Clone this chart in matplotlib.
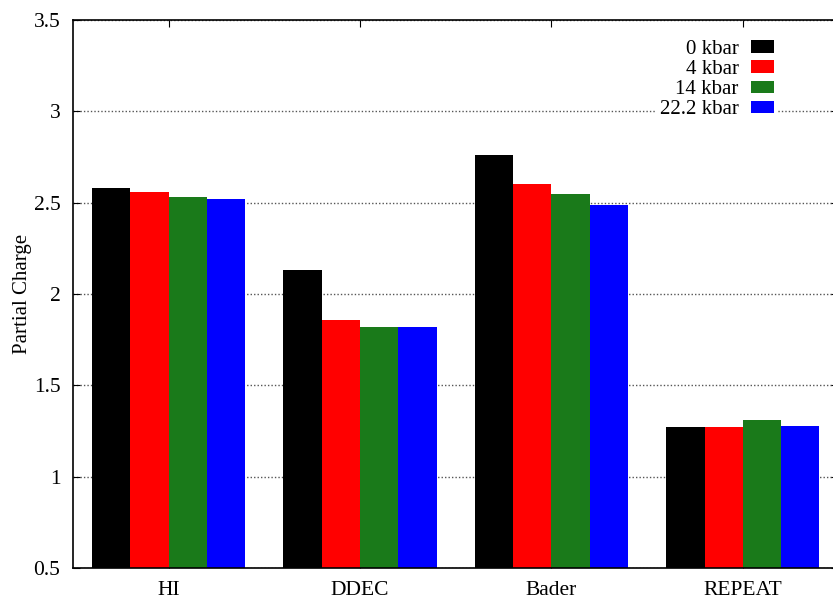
"""
Partial charge of the metal site under pressure, by charge partitioning scheme.
"""
import numpy as np
import matplotlib
matplotlib.use("Agg")
import matplotlib.pyplot as plt

methods = ["HI", "DDEC", "Bader", "REPEAT"]
pressures = ["0 kbar", "4 kbar", "14 kbar", "22.2 kbar"]
charge_0 = [2.58, 2.13, 2.76, 1.27]
charge_4 = [2.56, 1.86, 2.60, 1.27]
charge_14 = [2.53, 1.82, 2.55, 1.31]
charge_22 = [2.52, 1.82, 2.49, 1.28]
colors = ["#000000", "#ff0000", "#1a7a1a", "#0000ff"]

plt.rcParams["font.family"] = ["Liberation Serif", "DejaVu Serif"]

fig = plt.figure(figsize=(8.33, 6.01), dpi=100)
ax = fig.add_axes([0.0876, 0.0549, 0.919, 0.9118])

x = np.arange(len(methods))
width = 0.2
series = [charge_0, charge_4, charge_14, charge_22]
for i, (vals, lab, col) in enumerate(zip(series, pressures, colors)):
    ax.bar(x + (i - 1.5) * width, vals, width,
           color=col, label=lab, zorder=2, linewidth=0)

ax.set_xlim(-0.5, len(methods) - 0.5)
ax.set_ylim(0.5, 3.5)
ax.set_yticks([0.5, 1, 1.5, 2, 2.5, 3, 3.5])
ax.set_yticklabels(["0.5", "1", "1.5", "2", "2.5", "3", "3.5"])
ax.set_xticks(x)
ax.set_xticklabels(methods)
ax.tick_params(axis="both", direction="in", top=True, right=True,
               labelsize=15.5, length=5, width=0.8)
ax.tick_params(axis="y", pad=9)
ax.tick_params(axis="x", pad=9)
ax.grid(axis="y", linestyle=(0, (1, 1.5)), color="#555555", linewidth=1.0, zorder=0)
ax.set_axisbelow(True)
for sp in ax.spines.values():
    sp.set_linewidth(1.2)

ax.set_ylabel("Partial Charge", fontsize=15, labelpad=1)

leg = ax.legend(loc="upper right", bbox_to_anchor=(0.935, 0.99), markerfirst=False,
                frameon=True, fontsize=15, handlelength=1.1, handleheight=0.55,
                labelspacing=0.05, handletextpad=0.6, borderpad=0.2,
                fancybox=False, edgecolor="none", framealpha=1.0)
leg.set_zorder(5)

fig.savefig("out.png", dpi=100)
